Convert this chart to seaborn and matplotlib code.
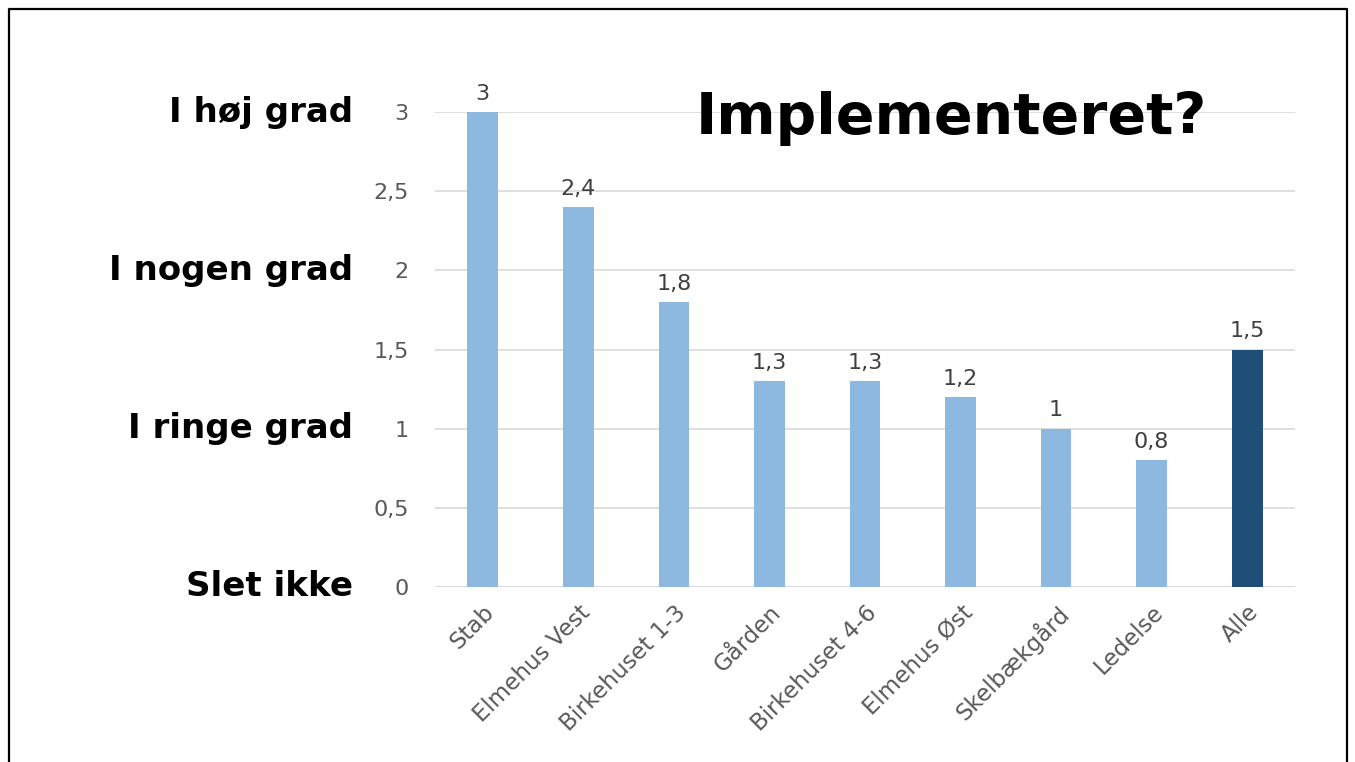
import numpy as np
import pandas as pd
import matplotlib
matplotlib.use("Agg")
import matplotlib.pyplot as plt
from matplotlib.ticker import FuncFormatter
from matplotlib.lines import Line2D
import seaborn as sns

# data
categories = ["Stab", "Elmehus Vest", "Birkehuset 1-3", "Gården", "Birkehuset 4-6",
              "Elmehus Øst", "Skelbækgård", "Ledelse", "Alle"]
values = [3, 2.4, 1.8, 1.3, 1.3, 1.2, 1, 0.8, 1.5]
bar_colors = ["#8DB9E1"] * 8 + ["#1F4E79"]
level_labels = ["Slet ikke", "I ringe grad", "I nogen grad", "I høj grad"]
level_values = [0, 1, 2, 3]
title = "Implementeret?"

df = pd.DataFrame({"cat": categories, "val": values})

sns.set_theme(style="white")
plt.rcParams['font.family'] = ['DejaVu Sans']

fig = plt.figure(figsize=(13.55, 7.62), dpi=100)
ax = fig.add_axes([435 / 1355, 1 - 587 / 762, 860 / 1355, 475 / 762])

sns.barplot(data=df, x="cat", y="val", hue="cat", palette=bar_colors,
            legend=False, width=0.32, saturation=1, linewidth=0, ax=ax, zorder=3)

ax.set_ylim(0, 3)
ax.set_yticks(np.arange(0, 3.01, 0.5))
ax.yaxis.set_major_formatter(FuncFormatter(lambda v, p: f"{v:g}".replace(".", ",")))
ax.grid(axis="y", color="#D9D9D9", linewidth=1.2, zorder=0)
ax.grid(axis="x", visible=False)
for s in ["top", "right", "left", "bottom"]:
    ax.spines[s].set_visible(False)
ax.axhline(0, color="#D9D9D9", linewidth=1.5, zorder=1)
ax.set_xlabel("")
ax.set_ylabel("")
ax.tick_params(axis="y", length=0, pad=19, labelsize=16, labelcolor="#595959")
ax.tick_params(axis="x", length=0, pad=10, labelsize=16.5, labelcolor="#595959")
plt.setp(ax.get_xticklabels(), rotation=45, ha="right", rotation_mode="anchor")

# value labels on bars
for cont in ax.containers:
    ax.bar_label(cont, labels=[f"{v:g}".replace(".", ",") for v in cont.datavalues],
                 padding=6, fontsize=16, color="#404040", clip_on=False)

# level labels on the left
trans = matplotlib.transforms.blended_transform_factory(fig.transFigure, ax.transData)
for lab, lv in zip(level_labels, level_values):
    ax.text(353 / 1355, lv, lab, transform=trans, ha="right", va="center",
            fontsize=24.5, fontweight="bold", color="black")

fig.text(951 / 1355, 1 - 119 / 762, title, ha="center", va="center",
         fontsize=41, fontweight="bold", color="black")

# frame around the slide
fx0, fx1, fy = 8.5 / 1355, 1347 / 1355, 1 - 9 / 762
fig.add_artist(Line2D([fx0, fx0, fx1, fx1], [0, fy, fy, 0], transform=fig.transFigure,
                      color="black", linewidth=1.6))

fig.savefig("out.png", dpi=100)
